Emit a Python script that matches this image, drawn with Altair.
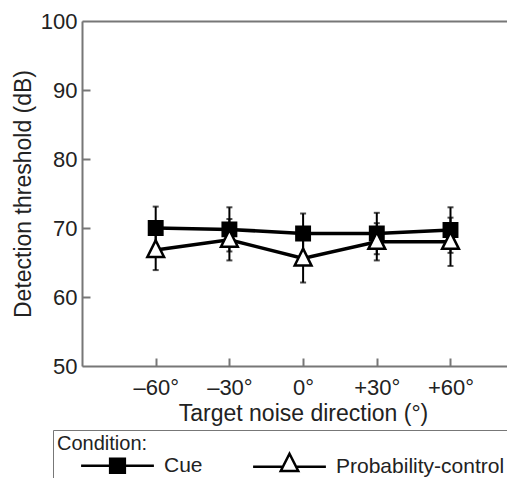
import altair as alt
import pandas as pd

# ---- data ----
directions = [-60, -30, 0, 30, 60]
tick_labels = ["–60°", "–30°", "0°", "+30°", "+60°"]
conditions = ["Cue", "Probability-control"]
cue_mean = [70.0, 69.8, 69.2, 69.2, 69.7]
cue_err = [3.1, 3.2, 2.9, 3.0, 3.3]
pc_mean = [66.8, 68.3, 65.6, 68.0, 68.0]
pc_err = [2.9, 3.0, 3.5, 2.7, 3.5]
y_ticks = [50, 60, 70, 80, 90, 100]

rows = []
for c, means, errs in [(conditions[0], cue_mean, cue_err), (conditions[1], pc_mean, pc_err)]:
    for d, m, e in zip(directions, means, errs):
        rows.append({"direction": d, "condition": c, "mean": m, "lo": m - e, "hi": m + e})
df = pd.DataFrame(rows)

FONT = "Liberation Sans"
TXT = "#222222"
AX = "#777777"
W, H = 425, 345

xscale = alt.Scale(domain=[-90, 83], nice=False, zero=False)
yscale = alt.Scale(domain=[50, 100], nice=False, zero=False)

label_expr = ("[" + ",".join(f"'{t}'" for t in tick_labels) + "][indexof(["
              + ",".join(str(d) for d in directions) + "], datum.value)]")

x_main = alt.Axis(orient="bottom", values=directions, labelExpr=label_expr, ticks=False,
                  domain=True, grid=False, title="Target noise direction (°)",
                  labelFontSize=22, titleFontSize=23, labelPadding=11, titlePadding=4,
                  titleX=221, titleFontWeight="normal", labelColor=TXT, titleColor=TXT,
                  domainColor=AX, domainWidth=2, labelFont=FONT, titleFont=FONT)
x_tickax = alt.Axis(orient="top", offset=-H, values=directions, labels=False, domain=False,
                    ticks=True, tickSize=8, tickColor=AX, tickWidth=2, title=None, grid=False)
x_top = alt.Axis(orient="top", labels=False, ticks=False, domain=True, domainColor=AX,
                 domainWidth=2, title=None, grid=False)
y_main = alt.Axis(orient="left", values=y_ticks, ticks=False, domain=True, grid=False,
                  title="Detection threshold (dB)", labelFontSize=22, titleFontSize=23,
                  labelPadding=5, titlePadding=5, titleFontWeight="normal",
                  labelColor=TXT, titleColor=TXT, domainColor=AX, domainWidth=2,
                  labelFont=FONT, titleFont=FONT)
y_tickax = alt.Axis(orient="right", offset=-W, values=y_ticks[1:-1], labels=False,
                    domain=False, ticks=True, tickSize=8, tickColor=AX, tickWidth=2,
                    title=None, grid=False)

base = alt.Chart(df)

lines = base.mark_line(color="black", strokeWidth=3.5).encode(
    x=alt.X("direction:Q", scale=xscale, axis=x_main),
    y=alt.Y("mean:Q", scale=yscale, axis=y_main),
    detail="condition:N",
)

whiskers = base.mark_rule(color="black", strokeWidth=2).encode(
    x=alt.X("direction:Q", scale=xscale, axis=x_tickax),
    y=alt.Y("lo:Q", scale=yscale, axis=y_tickax),
    y2="hi:Q",
)

caps_lo = base.mark_tick(orient="horizontal", size=6, thickness=2, color="black").encode(
    x=alt.X("direction:Q", scale=xscale, axis=x_top),
    y=alt.Y("lo:Q", scale=yscale, axis=None),
)
caps_hi = base.mark_tick(orient="horizontal", size=6, thickness=2, color="black").encode(
    x=alt.X("direction:Q", scale=xscale, axis=None),
    y=alt.Y("hi:Q", scale=yscale, axis=None),
)

plot_tri = "M0,-1.45L1.25,1.05H-1.25Z"
points = base.mark_point(filled=True, size=180, stroke="black", strokeWidth=2.5, opacity=1).encode(
    x=alt.X("direction:Q", scale=xscale, axis=None),
    y=alt.Y("mean:Q", scale=yscale, axis=None),
    shape=alt.Shape("condition:N", scale=alt.Scale(domain=conditions, range=["square", plot_tri]), legend=None),
    fill=alt.Fill("condition:N", scale=alt.Scale(domain=conditions, range=["black", "white"]), legend=None),
)

cue_path = "M-5.2,0H5.2M-1.05,-1.0H1.05V1.0H-1.05Z"
pc_path = "M-5.2,0H-0.93M0.93,0H5.2M0,-1.86L1.25,0.6H-1.25Z"

leg = alt.Legend(title="Condition:", orient="none", legendX=-29, legendY=409,
                 direction="horizontal", strokeColor=AX, padding=4,
                 titleFontSize=20, labelFontSize=21, titleFontWeight="normal",
                 titleColor=TXT, labelColor=TXT, titleFont=FONT, labelFont=FONT,
                 titlePadding=1, symbolSize=196, symbolStrokeColor="black",
                 symbolStrokeWidth=2.5, symbolOffset=50, labelOffset=36,
                 columnPadding=26, labelLimit=400)

legend_layer = base.transform_filter("datum.mean > 1000").mark_point(
    filled=True, size=196, stroke="black", strokeWidth=2.5, opacity=1).encode(
    x=alt.X("direction:Q", scale=xscale, axis=None),
    y=alt.Y("mean:Q", scale=yscale, axis=None),
    shape=alt.Shape("condition:N", scale=alt.Scale(domain=conditions, range=[cue_path, pc_path]), legend=leg),
    fill=alt.Fill("condition:N", scale=alt.Scale(domain=conditions, range=["black", "white"]), legend=leg),
    stroke=alt.Stroke("condition:N", scale=alt.Scale(domain=conditions, range=["black", "black"]), legend=leg),
)

chart = alt.layer(lines, whiskers, caps_lo, caps_hi, points, legend_layer).resolve_scale(
    shape="independent", fill="independent", stroke="independent"
).resolve_axis(x="independent", y="independent").properties(
    width=W, height=H,
    autosize=alt.AutoSizeParams(type="none"),
    padding={"left": 74, "top": 13, "right": 0, "bottom": 112},
).configure_view(stroke=None).configure(font=FONT)

chart.save("out.html", embed_options={"renderer": "svg", "actions": False})
